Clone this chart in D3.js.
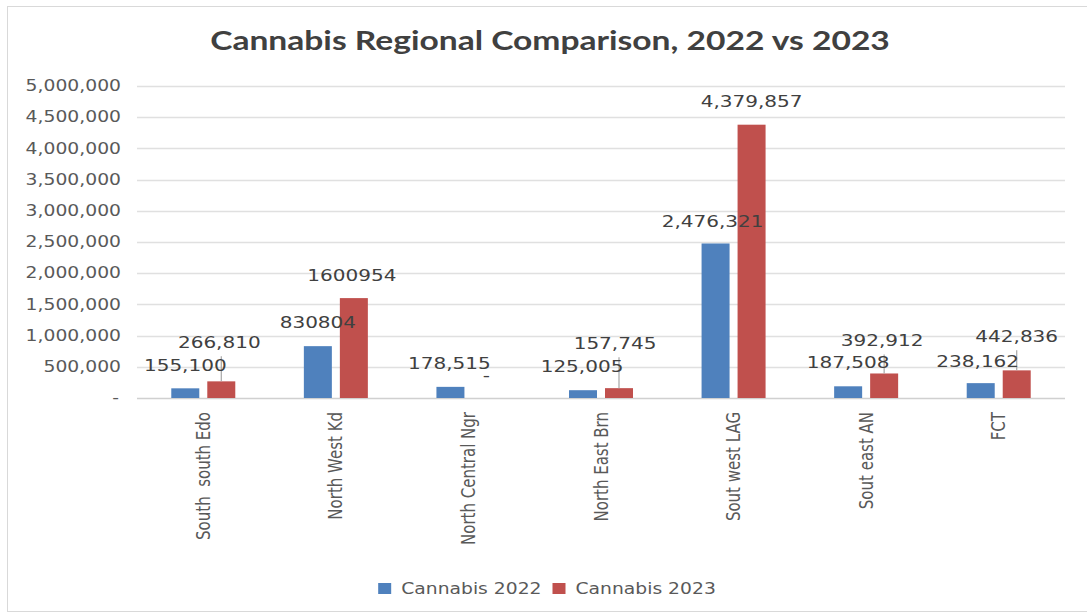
<!DOCTYPE html>
<html>
<head>
<meta charset="utf-8">
<script src="https://cdn.jsdelivr.net/npm/d3@7"></script>
<style>
  body { margin: 0; background: #fff; }
  text { font-family: 'DejaVu Sans', Verdana, sans-serif; fill: #404040; white-space: pre; }
</style>
</head>
<body>
<script>
// data
const categories = ['South  south Edo', 'North West Kd', 'North Central Ngr', 'North East Brn',
                    'Sout west LAG', 'Sout east AN', 'FCT']
const seriesNames = ['Cannabis 2022', 'Cannabis 2023']
const cannabis2022 = [155100, 830804, 178515, 125005, 2476321, 187508, 238162]
const cannabis2023 = [266810, 1600954, 0, 157745, 4379857, 392912, 442836]
const yTicks = [0, 500000, 1000000, 1500000, 2000000, 2500000, 3000000, 3500000, 4000000, 4500000, 5000000]
const plainLabelCategories = ['North West Kd']   // labels shown without thousands separator

// layout
const WIDTH = 1087, HEIGHT = 613
const PLOT = { left: 137, right: 1065, top: 86, bottom: 398 }
const SX = 1.25           // the picture is stretched horizontally
const BAR_W = 28, BAR_GAP = 8
const COLORS = ['#4F81BD', '#C0504D']
// label nudges [dx, dy] from bar top-centre, per series
const LABEL_NUDGE = [
  [[0, -23], [0, -24], [-1, -23], [-1, -24], [-3, -22], [0, -24], [-3, -22]],
  [[-2, -39], [-2, -23], [0, -23], [-4, -45], [0, -23], [-2, -33], [0, -34]]
]

const series = [cannabis2022, cannabis2023]

let svg = d3.select('body').append('svg')
  .attr('width', WIDTH)
  .attr('height', HEIGHT)

// chart frame
svg.append('rect')
  .attr('x', 7.5).attr('y', 6.5)
  .attr('width', WIDTH).attr('height', HEIGHT - 8)
  .attr('fill', '#fff')
  .attr('stroke', '#d9d9d9')

// scales
let x = d3.scaleBand()
  .domain(categories)
  .range([PLOT.left, PLOT.right])
let y = d3.scaleLinear()
  .domain([0, 5000000])
  .range([PLOT.bottom, PLOT.top])

// place text with the horizontal stretch
function place(sel, px, py, rot) {
  sel.attr('transform', 'translate(' + [px, py] + ') scale(' + SX + ',1)' + (rot ? ' rotate(' + rot + ')' : ''))
}

// gridlines
svg.append('g').selectAll('line')
  .data(yTicks)
  .join('line')
    .attr('x1', PLOT.left).attr('x2', PLOT.right)
    .attr('y1', (d) => Math.round(y(d)) + 0.5)
    .attr('y2', (d) => Math.round(y(d)) + 0.5)
    .attr('stroke', (d) => d === 0 ? '#d0d0d0' : '#e0e0e0')
    .attr('stroke-width', 1.5)

// y axis labels
let fmtTick = (d) => d === 0 ? '-' : d3.format(',')(d)
svg.append('g').selectAll('text')
  .data(yTicks)
  .join('text')
    .attr('text-anchor', 'end')
    .attr('dy', '.35em')
    .style('font-size', '15px')
    .style('fill', '#595959')
    .text(fmtTick)
    .each(function(d) { place(d3.select(this), d === 0 ? 119 : 121, y(d)) })

// bars
let barX = (i, s) => x(categories[i]) + x.bandwidth() / 2 + (s === 0 ? -BAR_GAP / 2 - BAR_W : BAR_GAP / 2)
let points = []
series.forEach((vals, s) => vals.forEach((v, i) => points.push({ s, i, v })))

svg.append('g').selectAll('rect')
  .data(points)
  .join('rect')
    .attr('x', (d) => barX(d.i, d.s))
    .attr('y', (d) => y(d.v))
    .attr('width', BAR_W)
    .attr('height', (d) => y(0) - y(d.v))
    .attr('fill', (d) => COLORS[d.s])

// data labels
let fmtLabel = (d) => {
  if (d.v === 0) return '-'
  return plainLabelCategories.includes(categories[d.i]) ? d3.format('d')(d.v) : d3.format(',')(d.v)
}
let labelPos = (d) => {
  let n = LABEL_NUDGE[d.s][d.i]
  return [barX(d.i, d.s) + BAR_W / 2 + n[0], y(d.v) + n[1]]
}

// leader lines for labels pulled away from their bars
svg.append('g').selectAll('line')
  .data(points.filter((d) => LABEL_NUDGE[d.s][d.i][1] < -28))
  .join('line')
    .attr('x1', (d) => barX(d.i, d.s) + BAR_W / 2)
    .attr('x2', (d) => barX(d.i, d.s) + BAR_W / 2)
    .attr('y1', (d) => labelPos(d)[1] + 14)
    .attr('y2', (d) => y(d.v))
    .attr('stroke', '#a6a6a6')
    .attr('stroke-width', 1.2)

svg.append('g').selectAll('text')
  .data(points)
  .join('text')
    .attr('text-anchor', 'middle')
    .attr('dy', '.35em')
    .style('font-size', '16px')
    .text(fmtLabel)
    .each(function(d) { let p = labelPos(d); place(d3.select(this), p[0], p[1]) })

// category labels
svg.append('g').selectAll('text')
  .data(categories)
  .join('text')
    .attr('text-anchor', 'end')
    .attr('dy', '.35em')
    .style('font-size', '15px')
    .style('fill', '#595959')
    .text((d) => d)
    .each(function(d) { place(d3.select(this), x(d) + x.bandwidth() / 2, 412, -90) })

// title
let title = svg.append('text')
  .attr('text-anchor', 'middle')
  .style('font-family', 'Lato, sans-serif')
  .style('font-weight', 'bold')
  .style('font-size', '27px')
  .style('fill', '#404040')
  .text('Cannabis Regional Comparison, 2022 vs 2023')
let tsx = 680 / title.node().getComputedTextLength()
title.attr('transform', 'translate(550,50) scale(' + tsx + ',1)')

// legend
let legend = svg.append('g')
let lx = 0
seriesNames.forEach((name, s) => {
  legend.append('rect')
    .attr('x', lx).attr('y', -11)
    .attr('width', 13).attr('height', 11)
    .attr('fill', COLORS[s])
  lx += 23
  let t = legend.append('text')
    .style('font-size', '15px')
    .style('fill', '#595959')
    .text(name)
  place(t, lx, 0)
  lx += t.node().getComputedTextLength() * SX + 11
})
legend.attr('transform', 'translate(' + [547 - (lx - 11) / 2, 594] + ')')
</script>
</body>
</html>
